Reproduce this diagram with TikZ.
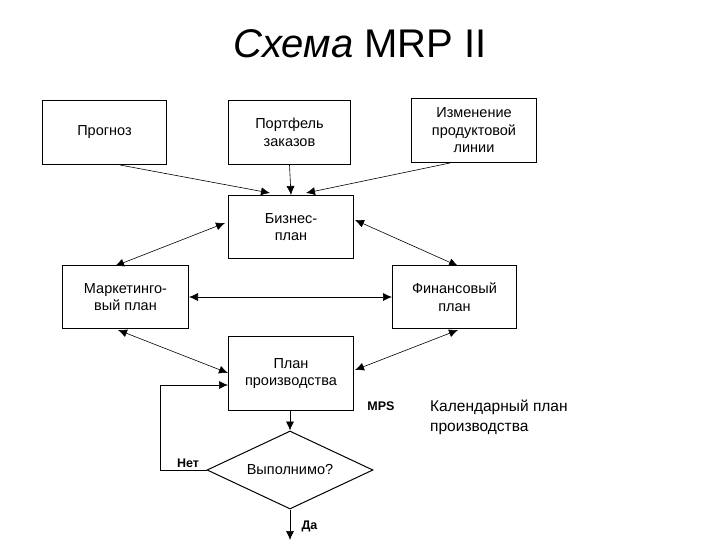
\documentclass[tikz,border=0pt]{standalone}
\usepackage{fontspec}
\setmainfont{Liberation Sans}
\usetikzlibrary{shapes.geometric,arrows.meta}
\begin{document}
\begin{tikzpicture}[x=1pt,y=-1pt,
  box/.style={draw,line width=1pt,minimum width=124pt,minimum height=64pt,align=center,font=\fontsize{14.5}{17.5}\selectfont,anchor=north west,inner sep=2pt},
  ar/.style={-{Latex[length=9pt,width=8pt]},line width=0.6pt},
  dar/.style={{Latex[length=9pt,width=8pt]}-{Latex[length=9pt,width=8pt]},line width=0.6pt}]
\useasboundingbox (0,0) rectangle (720,540);
\node[font=\fontsize{40}{46}\selectfont] (title) at (360,44) {\textit{Схема} MRP II};
\node[box] (prog) at (42,100) {Прогноз};
\node[box,minimum width=122pt] (port) at (228,100) {Портфель\\заказов};
\node[box,minimum width=125pt] (izm) at (411,98) {Изменение\\продуктовой\\линии};
\node[box,minimum width=125pt,minimum height=63pt] (bus) at (228,195) {Бизнес-\\план};
\node[box,minimum width=126pt,minimum height=63pt] (mar) at (62,265) {Маркетинго-\\вый план};
\node[box,minimum width=124pt,minimum height=63pt] (fin) at (392,265) {Финансовый\\план};
\node[box,minimum width=125pt,minimum height=74pt] (plan) at (228,336) {План\\производства};
\node[draw,diamond,aspect=2.1,line width=1pt,minimum width=166pt,minimum height=78pt,inner sep=0pt,font=\fontsize{14.5}{17.5}\selectfont] (dia) at (290,470) {Выполнимо?};
\coordinate (pb) at (120,165);
\coordinate (ib) at (450,163);
\draw[ar] (pb) -- (270,193);
\draw[ar] (port.south) -- (bus.north);
\draw[ar] (ib) -- (306,193);
\draw[dar] (225,223) -- (115,266);
\draw[dar] (355,220) -- (458,266);
\draw[dar] (mar.east) -- (fin.west);
\draw[dar] (118,330) -- (228,373);
\draw[dar] (458,330) -- (355,370);
\draw[ar] (plan.south -| dia.north) -- (dia.north);
\coordinate (dn) at (290,540);
\draw[ar] (dia.south) -- (dn);
\node[font=\bfseries\fontsize{12.5}{15}\selectfont,anchor=west] (da) at (298,526) {Да};
\coordinate (c1) at (160,470);
\coordinate (c2) at (160,385);
\draw[ar] (dia.west) -- (c1) -- (c2) -- (plan.west |- c2);
\node[font=\bfseries\fontsize{12.5}{15}\selectfont] (net) at (188,463) {Нет};
\node[font=\bfseries\fontsize{12.5}{15}\selectfont] (mps) at (381,406) {MPS};
\node[font=\fontsize{15.5}{20}\selectfont,align=left,anchor=north west,inner sep=0pt] (kal) at (430,400) {Календарный план\\производства};
\end{tikzpicture}
\end{document}
